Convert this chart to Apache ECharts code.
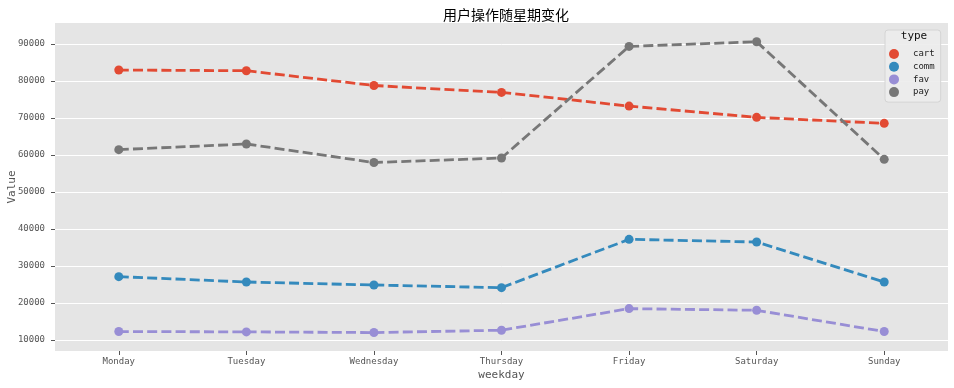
<!DOCTYPE html>
<html><head><meta charset="utf-8">
<script src="https://cdn.jsdelivr.net/npm/echarts@6/dist/echarts.min.js"></script>
<style>html,body{margin:0;padding:0;background:#fff}#c{width:954px;height:388px}</style>
</head><body><div id="c"></div>
<script>
const categories = ['Monday','Tuesday','Wednesday','Thursday','Friday','Saturday','Sunday'];
const seriesNames = ['cart','comm','fav','pay'];
const cart = [82980, 82800, 78800, 76930, 73230, 70180, 68560];
const comm = [27110, 25660, 24850, 24130, 37200, 36480, 25670];
const fav  = [12260, 12170, 11990, 12620, 18460, 18010, 12260];
const pay  = [61450, 62980, 57970, 59190, 89370, 90630, 58830];
const yTicks = [10000,20000,30000,40000,50000,60000,70000,80000,90000];
const colors = ['#E24A33','#348ABD','#988ED5','#777777'];
const values = [cart, comm, fav, pay];
const mono = '"DejaVu Sans Mono", monospace';

const chart = echarts.init(document.getElementById('c'));
chart.setOption({
  animation: false,
  backgroundColor: '#ffffff',
  title: [
    {text: '用户操作随星期变化', left: 501, top: 3, textAlign: 'center',
     textStyle: {fontFamily: '"Noto Sans CJK SC"', fontSize: 14, fontWeight: 'normal', color: '#000'}},
    {text: 'type', left: 914, top: 31, textAlign: 'center', padding: 0,
     textStyle: {fontFamily: mono, fontSize: 11, fontWeight: 'normal', color: '#111'}}
  ],
  grid: {left: 55, right: 6, top: 23, bottom: 37, show: true, backgroundColor: '#E5E5E5', borderWidth: 0,
         containLabel: false, outerBoundsMode: 'none'},
  legend: {
    orient: 'vertical', left: 885, top: 30,
    data: seriesNames.map(n => ({name: n, icon: 'circle'})),
    itemWidth: 20, itemHeight: 10, itemGap: 2.7,
    padding: [19, 6, 5, 4],
    backgroundColor: 'rgba(236,236,236,0.9)', borderColor: '#d4d4d4', borderWidth: 1, borderRadius: 3,
    textStyle: {fontFamily: mono, fontSize: 9, color: '#222', padding: [0,0,0,4]}
  },
  xAxis: {
    type: 'category', data: categories, boundaryGap: true,
    name: 'weekday', nameLocation: 'middle', nameGap: 19, nameMoveOverlap: false,
    nameTextStyle: {fontFamily: mono, fontSize: 11, color: '#555'},
    axisLine: {show: false},
    axisTick: {show: true, alignWithLabel: true, length: 4, lineStyle: {color: '#555'}},
    axisLabel: {fontFamily: mono, fontSize: 9, color: '#555', margin: 6},
    splitLine: {show: false}
  },
  yAxis: {
    type: 'value', min: 7000, max: 95700,
    name: 'Value', nameLocation: 'middle', nameGap: 37, nameMoveOverlap: false,
    nameTextStyle: {fontFamily: mono, fontSize: 11, color: '#555'},
    axisLine: {show: false},
    axisTick: {show: true, length: 4, lineStyle: {color: '#555'}, customValues: yTicks},
    axisLabel: {fontFamily: mono, fontSize: 9, color: '#555', margin: 10, customValues: yTicks,
                formatter: v => String(v)},
    splitLine: {show: true, lineStyle: {color: '#ffffff', width: 1}}
  },
  series: seriesNames.map((n, i) => ({
    name: n, type: 'line', data: values[i],
    symbol: 'circle', symbolSize: 9, showSymbol: true,
    itemStyle: {color: colors[i]},
    lineStyle: {color: colors[i], width: 2.8, type: [10, 4.2]},
    z: 3
  }))
});
</script>
</body></html>
